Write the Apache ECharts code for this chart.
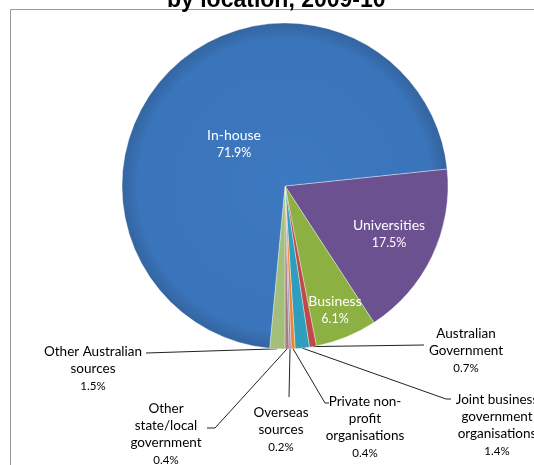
<!DOCTYPE html>
<html>
<head>
<meta charset="utf-8">
<script src="https://cdn.jsdelivr.net/npm/echarts@6/dist/echarts.min.js"></script>
<style>
  html, body { margin: 0; padding: 0; background: #fff; }
  #chart { width: 534px; height: 465px; }
</style>
</head>
<body>
<div id="chart"></div>
<script>
// Funding sources, listed clockwise from the In-house / Universities boundary
const categories = [
  'Universities',
  'Business',
  'Australian\nGovernment',
  'Joint business\ngovernment\norganisations',
  'Private non-\nprofit\norganisations',
  'Overseas\nsources',
  'Other\nstate/local\ngovernment',
  'Other Australian\nsources',
  'In-house'
];
const shares = [17.5, 6.1, 0.7, 1.4, 0.4, 0.2, 0.4, 1.5, 71.9];
const sliceColors = [
  '#6c5190', '#8cb042', '#bd4a47', '#2f9dbc', '#eb8634',
  '#9089aa', '#a87b86', '#a3bf7b', '#3a74ba'
];
const insideLabel = [true, true, false, false, false, false, false, false, true];

// Pie geometry and label placement
const CX = 285, CY = 186, R = 163, START = 6;
const labelSpots = [
  { x: 389, y: 216 },                                  // Universities
  { x: 335, y: 292 },                                  // Business
  { x: 466, y: 325, elbow: [424, 345] },               // Australian Government
  { x: 497, y: 391, elbow: [446, 399], end: [451, 399] },
  { x: 365, y: 393, elbow: [325, 403], end: [329, 403] },
  { x: 281, y: 404, elbow: [289, 397] },
  { x: 166, y: 400, elbow: [215, 428], end: [207, 428] },
  { x: 93, y: 343, elbow: [146, 353] },
  { x: 234, y: 126 }                                   // In-house
];

const total = shares.reduce((a, b) => a + b, 0);
function edgePoint(i) {
  let before = 0;
  for (let k = 0; k < i; k++) before += shares[k];
  const deg = START - (before + shares[i] / 2) / total * 360;
  const rad = deg * Math.PI / 180;
  return [CX + R * Math.cos(rad), CY - R * Math.sin(rad)];
}

const data = categories.map((name, i) => {
  const item = {
    name: name,
    value: shares[i],
    itemStyle: { color: sliceColors[i] },
    label: insideLabel[i]
      ? { position: 'inside', formatter: '{a|{b}}\n{c|{c}%}' }
      : { position: 'outside', formatter: '{n|{b}}\n{p|{c}%}' },
    labelLine: { show: !insideLabel[i] }
  };
  if (name === 'In-house') {
    item.itemStyle.color = {
      type: 'radial', x: 0.5, y: 0.5, r: 0.5,
      colorStops: [
        { offset: 0, color: '#3d79c0' },
        { offset: 0.9, color: '#3a74ba' },
        { offset: 1, color: '#33649f' }
      ]
    };
  }
  return item;
});

const chart = echarts.init(document.getElementById('chart'), null, { renderer: 'canvas' });
chart.setOption({
  backgroundColor: '#ffffff',
  animation: false,
  title: {
    text: 'by location, 2009-10',
    left: 162,
    top: -16,
    textStyle: { fontFamily: 'Liberation Sans', fontWeight: 'bold', fontSize: 23, color: '#000' }
  },
  graphic: [{
    type: 'rect',
    shape: { x: 10.5, y: 9.5, width: 560, height: 500 },
    style: { fill: 'none', stroke: '#9a9a9a', lineWidth: 1 },
    silent: true,
    z: -1
  }],
  series: [{
    type: 'pie',
    center: [CX, CY],
    radius: R,
    startAngle: START,
    clockwise: true,
    avoidLabelOverlap: false,
    data: data,
    itemStyle: { borderColor: 'rgba(255,255,255,0.45)', borderWidth: 0.8 },
    label: {
      fontFamily: 'Lato',
      rich: {
        a: { color: '#fff', fontSize: 14, lineHeight: 18, fontFamily: 'Lato' },
        c: { color: '#fff', fontSize: 12.5, lineHeight: 18, fontFamily: 'Lato' },
        n: { color: '#000', fontSize: 13.5, lineHeight: 17, fontFamily: 'Lato' },
        p: { color: '#000', fontSize: 11.5, lineHeight: 18, fontFamily: 'Lato' }
      }
    },
    labelLine: {
      show: true,
      lineStyle: { color: '#222', width: 1 }
    },
    labelLayout: function (params) {
      const i = params.dataIndex;
      const spot = labelSpots[i];
      const out = { x: spot.x, y: spot.y, align: 'center', verticalAlign: 'top' };
      if (spot.elbow) {
        const pts = [edgePoint(i), spot.elbow];
        if (spot.end) pts.push(spot.end);
        else pts.push(spot.elbow.slice());
        out.labelLinePoints = pts;
      }
      return out;
    }
  }]
});
</script>
</body>
</html>
